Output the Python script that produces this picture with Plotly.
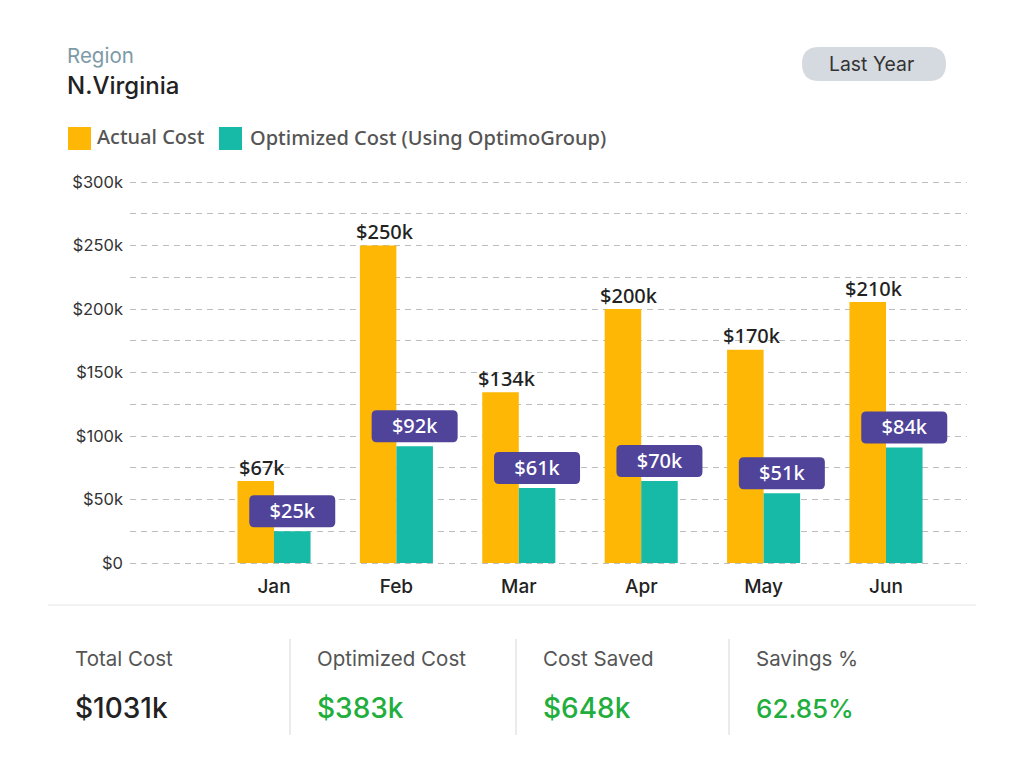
import plotly.graph_objects as go

months = ["Jan", "Feb", "Mar", "Apr", "May", "Jun"]
actual_bars = [64500, 250000, 134500, 200000, 168000, 205500]
optimized_bars = [25000, 92000, 59000, 64500, 55000, 91000]
actual_labels = ["$67k", "$250k", "$134k", "$200k", "$170k", "$210k"]
optimized_labels = ["$25k", "$92k", "$61k", "$70k", "$51k", "$84k"]
y_ticks = [0, 50000, 100000, 150000, 200000, 250000, 300000]
y_tick_labels = ["$0", "$50k", "$100k", "$150k", "$200k", "$250k", "$300k"]
stat_names = ["Total Cost", "Optimized Cost", "Cost Saved", "Savings %"]
stat_values = ["$1031k", "$383k", "$648k", "62.85%"]

W, H = 1024, 783
PAD = 2
L, R, T, B = 130, 967, 182 - PAD, 563 + PAD
ORANGE, TEAL, PURPLE = "#FEB705", "#17BAA6", "#50439A"
SANS, JAK = "Noto Sans", "Inter"
Y_PAD = 300000 / 381 * PAD


def px(x):
    return (x - L) / (R - L)


def py(y):
    return (B - y) / (B - T)


def rounded(w, h, r, cy=0):
    hw, b, t = w / 2, cy - h / 2, cy + h / 2
    return (f"M {-hw + r} {b} L {hw - r} {b} Q {hw} {b} {hw} {b + r} "
            f"L {hw} {t - r} Q {hw} {t} {hw - r} {t} L {-hw + r} {t} "
            f"Q {-hw} {t} {-hw} {t - r} L {-hw} {b + r} Q {-hw} {b} {-hw + r} {b} Z")


def text(s, x, y, size, color, anchor="left", family=JAK, weight=400):
    nudge = -2 if anchor == "left" else 0
    return dict(text=s, xref="paper", yref="paper", x=px(x + nudge), y=py(y), xanchor=anchor, yanchor="middle",
                showarrow=False, font=dict(family=family, size=size, color=color, weight=weight))


fig = go.Figure()
fig.add_bar(x=months, y=actual_bars, name="Actual Cost", marker=dict(color=ORANGE, line_width=0))
fig.add_bar(x=months, y=optimized_bars, name="Optimized Cost (Using OptimoGroup)", marker=dict(color=TEAL, line_width=0))

shapes, annos = [], []
UNIT = 122.4
OFFSET = 18.25 / UNIT
for i in range(len(months)):
    annos.append(dict(text=actual_labels[i], x=i - OFFSET, y=actual_bars[i], xref="x", yref="y", xshift=6.5, yshift=14,
                      showarrow=False, yanchor="middle", font=dict(family=SANS, size=20, color="#222222", weight=500)))
    shapes.append(dict(type="path", path=rounded(86, 32, 5, cy=20), xref="x", yref="y",
                       xsizemode="pixel", ysizemode="pixel", xanchor=i + OFFSET, yanchor=optimized_bars[i],
                       fillcolor=PURPLE, line=dict(width=0), layer="above",
                       label=dict(text=optimized_labels[i], textposition="middle center",
                                  font=dict(family=SANS, size=20, color="white", weight=500))))

annos += [
    text("Region", 67, 56, 20.5, "#7D9AA6"),
    text("N.Virginia", 67, 85, 24, "#222222", weight=500),
    text("Last Year", 871, 64, 19.4, "#333333", anchor="center"),
    text("Actual Cost", 97, 136, 20, "#555555", family=SANS, weight=500),
    text("Optimized Cost (Using OptimoGroup)", 250, 137, 20, "#555555", family=SANS, weight=500),
]
for name, val, x, col, size in zip(stat_names, stat_values, [75, 317, 543, 756],
                                   ["#222222", "#21AE3C", "#21AE3C", "#21AE3C"], [28, 28, 28, 26]):
    annos.append(text(name, x, 658, 20.5, "#555555"))
    annos.append(text(val, x, 708, size, col, weight=500))

paper = dict(xref="paper", yref="paper")
shapes += [
    dict(type="rect", x0=px(68), x1=px(91), y0=py(150), y1=py(127), fillcolor=ORANGE, line_width=0, **paper),
    dict(type="rect", x0=px(219), x1=px(242), y0=py(150), y1=py(127), fillcolor=TEAL, line_width=0, **paper),
    dict(type="path", path=rounded(144, 34, 17), xsizemode="pixel", ysizemode="pixel",
         xanchor=px(874), yanchor=py(64), fillcolor="#D5DAE0", line_width=0, **paper),
    dict(type="line", x0=px(48), x1=px(976), y0=py(605), y1=py(605), line=dict(color="#E5E5E5", width=1), **paper),
]
for x in [290, 516, 729]:
    shapes.append(dict(type="line", x0=px(x), x1=px(x), y0=py(639), y1=py(735),
                       line=dict(color="#E5E5E5", width=1.5), **paper))

GRID_DASH = "6px,5px"
fig.update_layout(
    width=W, height=H, margin=dict(l=L, r=W - R, t=T, b=H - B, pad=0),
    paper_bgcolor="white", plot_bgcolor="white", showlegend=False,
    barmode="group", bargap=0.403, bargroupgap=0,
    shapes=shapes, annotations=annos,
    xaxis=dict(type="category", range=[(L - 274) / UNIT, (R - 274) / UNIT], showgrid=False, showline=False,
               ticks="", ticklabelstandoff=8, tickfont=dict(family=JAK, size=19, color="#222222", weight=500)),
    yaxis=dict(range=[-Y_PAD, 300000 + Y_PAD], tickvals=y_ticks, ticktext=y_tick_labels, zeroline=False,
               showgrid=True, gridcolor="#BDBDBD", griddash=GRID_DASH, gridwidth=1,
               minor=dict(dtick=25000, tick0=0, showgrid=True, gridcolor="#BDBDBD", griddash=GRID_DASH, gridwidth=1, ticks=""),
               ticks="", ticklabelstandoff=6, tickfont=dict(family=JAK, size=16.5, color="#333333")),
    font=dict(family=JAK),
)
fig.write_html("out.html", post_script="document.body.style.margin='0';document.body.style.overflow='hidden';",
               config=dict(displayModeBar=False))
